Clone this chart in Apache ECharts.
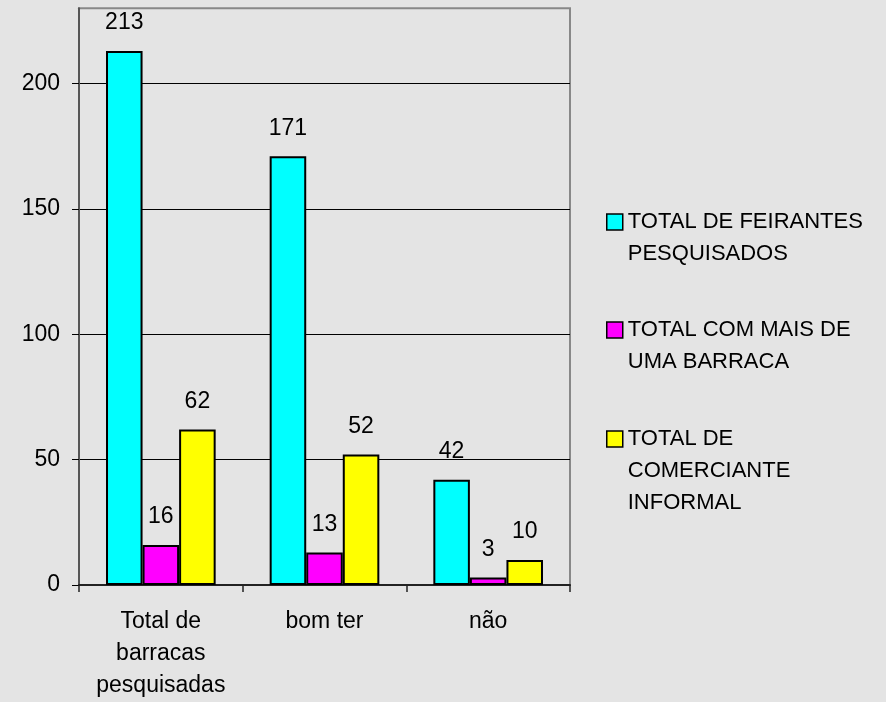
<!DOCTYPE html>
<html>
<head>
<meta charset="utf-8">
<script src="https://cdn.jsdelivr.net/npm/echarts@6/dist/echarts.min.js"></script>
<style>
html,body{margin:0;padding:0;background:#e4e4e4;}
#chart{width:886px;height:702px;}
</style>
</head>
<body>
<div id="chart"></div>
<script>
const categories = ['Total de\nbarracas\npesquisadas', 'bom ter', 'não'];
const seriesNames = ['TOTAL DE FEIRANTES PESQUISADOS', 'TOTAL COM MAIS DE UMA BARRACA', 'TOTAL DE COMERCIANTE INFORMAL'];
const legendLines = [
  ['TOTAL DE FEIRANTES', 'PESQUISADOS'],
  ['TOTAL COM MAIS DE', 'UMA BARRACA'],
  ['TOTAL DE', 'COMERCIANTE', 'INFORMAL']
];
const feirantes = [213, 171, 42];
const maisDeUma = [16, 13, 3];
const informal = [62, 52, 10];
const yTicks = [0, 50, 100, 150, 200];
const colors = ['#00FFFF', '#FF00FF', '#FFFF00'];
const values = [feirantes, maisDeUma, informal];

const FONT = '"Liberation Sans", Arial, sans-serif';
const legendTops = [174, 282, 359];

const chart = echarts.init(document.getElementById('chart'));

const legends = seriesNames.map((name, i) => ({
  data: [name],
  orient: 'vertical',
  left: 606,
  top: legendTops[i],
  padding: 0,
  itemWidth: 16,
  itemHeight: 16,
  icon: 'rect',
  selectedMode: false,
  itemStyle: { borderColor: '#000', borderWidth: 1.5 },
  formatter: function () {
    const lines = legendLines[i];
    const blanks = new Array(lines.length - 1).fill('');
    return blanks.concat(lines).join('\n');
  },
  textStyle: { fontFamily: FONT, fontSize: 22, lineHeight: 32, color: '#000' }
}));

chart.setOption({
  backgroundColor: '#e4e4e4',
  animation: false,
  legend: legends,
  grid: {
    left: 79, right: 316, top: 8.3, bottom: 116,
    show: true, borderColor: '#888', borderWidth: 2, backgroundColor: 'transparent'
  },
  xAxis: {
    type: 'category',
    data: categories,
    axisLine: { lineStyle: { color: '#222', width: 2 } },
    axisTick: { show: true, length: 7, lineStyle: { color: '#222', width: 1.5 } },
    axisLabel: { fontFamily: FONT, fontSize: 23, lineHeight: 32, color: '#000', margin: 21, interval: 0 },
    splitLine: { show: false }
  },
  yAxis: {
    type: 'value',
    min: 0,
    max: 230,
    interval: 50,
    axisLine: { show: true, lineStyle: { color: '#555', width: 2 } },
    axisTick: { show: true, length: 7, customValues: yTicks, lineStyle: { color: '#000', width: 1 } },
    axisLabel: { fontFamily: FONT, fontSize: 23, color: '#000', margin: 19, customValues: yTicks, showMaxLabel: true, showMinLabel: true },
    splitLine: { show: true, showMaxLine: true, lineStyle: { color: '#000', width: 1 } }
  },
  series: seriesNames.map((name, i) => ({
    name: name,
    type: 'bar',
    data: values[i],
    barGap: '0%',
    barCategoryGap: '33%',
    itemStyle: { color: colors[i], borderColor: '#000', borderWidth: 2 },
    label: {
      show: true, position: 'top', distance: 16.5,
      fontFamily: FONT, fontSize: 23, color: '#000'
    }
  }))
});
</script>
</body>
</html>
